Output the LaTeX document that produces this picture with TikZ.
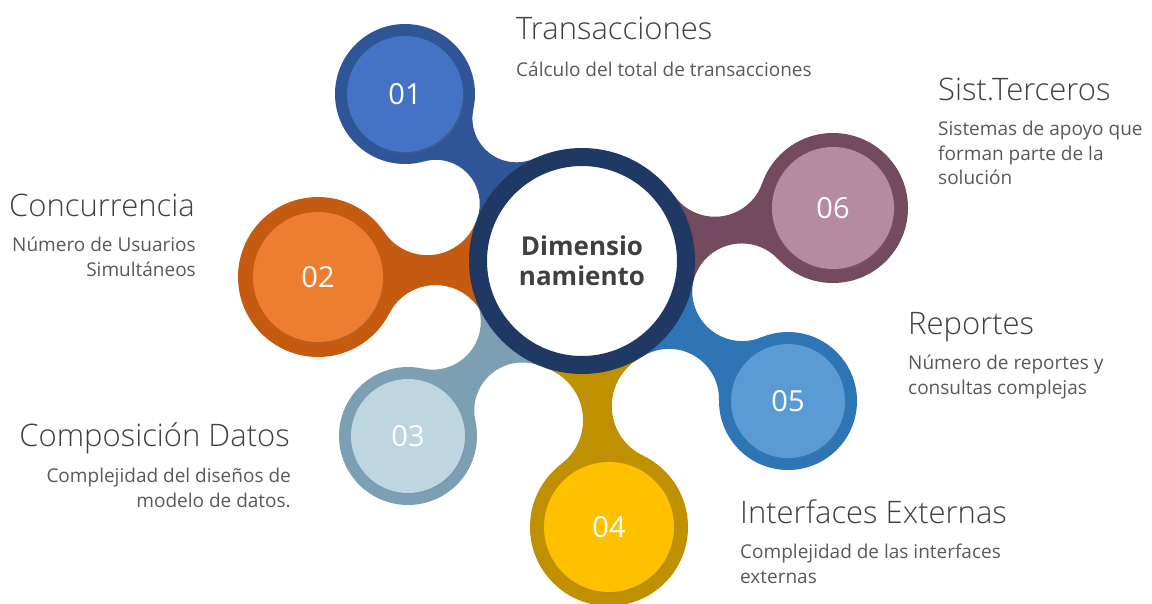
\documentclass[tikz,border=0pt]{standalone}
\usepackage{fontspec}
\setmainfont{Open Sans}
\newfontfamily\thinfont{Open Sans Light}
\usetikzlibrary{positioning}
\usetikzlibrary{intersections}
\usetikzlibrary{backgrounds}
\usetikzlibrary{shadows}

\definecolor{navy}{HTML}{203864}
\definecolor{blueD}{HTML}{2F5597}
\definecolor{blueL}{HTML}{4472C4}
\definecolor{orangeD}{HTML}{C55A11}
\definecolor{orangeL}{HTML}{ED7D31}
\definecolor{steelD}{HTML}{7C9FB3}
\definecolor{steelL}{HTML}{BDD6E0}
\definecolor{goldD}{HTML}{BF9000}
\definecolor{goldL}{HTML}{FFC000}
\definecolor{skyD}{HTML}{2E75B6}
\definecolor{skyL}{HTML}{5B9BD5}
\definecolor{plumD}{HTML}{744A5E}
\definecolor{plumL}{HTML}{B68AA1}
\definecolor{headgray}{HTML}{404040}
\definecolor{textgray}{HTML}{595959}

\tikzset{ring/.style = {circle, inner sep = 0}}
\tikzset{core/.style = {circle, inner sep = 0, text = white,
    font = \fontsize{29}{29}\selectfont,
    circular drop shadow = {shadow xshift = 1.5pt, shadow yshift = -2.5pt,
      shadow scale = 1, opacity = 0.45}}}
\tikzset{hub/.style = {circle, inner sep = 0, minimum size = 208pt, fill = white,
    draw = navy, line width = 18pt, align = center, text = headgray,
    font = \bfseries\fontsize{26}{30}\selectfont}}
\tikzset{head/.style = {inner sep = 0, text = headgray, font = \thinfont\fontsize{31}{31}\selectfont}}
\tikzset{note/.style = {inner sep = 0, text = textgray, font = \fontsize{19}{24.5}\selectfont}}

% neck between a bubble and the hub: #1 bubble, #2 its radius, #3 cut radius, #4 colour, #5 tag
\newcommand{\neck}[5]{%
  \path[name path=ra#5] (#1.center) circle ({#2+#3});
  \path[name path=rb#5] (dim.center) circle ({113+#3});
  \path[name intersections={of=ra#5 and rb#5, by={#5a,#5b}}];
  \begin{scope}
    \clip (#1.center) -- (#5a) -- (dim.center) -- (#5b) -- cycle;
    \fill[#4, even odd rule] (#1.center) circle (400)
      (#5a) circle (#3) (#5b) circle (#3);
  \end{scope}
}

\begin{document}
\begin{tikzpicture}[x=1pt, y=-1pt]
  \useasboundingbox (0,0) rectangle (1152,603);

  \node[hub] (dim) at (582,261) {Dimensio\\namiento};

  \node[ring, minimum size=140pt, fill=blueD] (s1) at (405,94) {};
  \node[ring, minimum size=160pt, fill=orangeD] (s2) at (318,277) {};
  \node[ring, minimum size=138pt, fill=steelD] (s3) at (408,436) {};
  \node[ring, minimum size=158pt, fill=goldD] (s4) at (609,527) {};
  \node[ring, minimum size=138pt, fill=skyD] (s5) at (788,401) {};
  \node[ring, minimum size=150pt, fill=plumD] (s6) at (833,208) {};

  \node[core, minimum size=116pt, fill=blueL] (c1) at (s1) {01};
  \node[core, minimum size=130pt, fill=orangeL] (c2) at (s2) {02};
  \node[core, minimum size=114pt, fill=steelL] (c3) at (s3) {03};
  \node[core, minimum size=130pt, fill=goldL] (c4) at (s4) {04};
  \node[core, minimum size=114pt, fill=skyL] (c5) at (s5) {05};
  \node[core, minimum size=122pt, fill=plumL] (c6) at (s6) {06};

  \begin{scope}[on background layer]
    \neck{s1}{70}{44}{blueD}{n1}
    \neck{s2}{80}{52}{orangeD}{n2}
    \neck{s3}{69}{48}{steelD}{n3}
    \neck{s4}{79}{55}{goldD}{n4}
    \neck{s5}{69}{50}{skyD}{n5}
    \neck{s6}{75}{50}{plumD}{n6}
  \end{scope}

  % labels
  \node[head, anchor=base west] (h1) at (516,39) {Transacciones};
  \node[note, anchor=north west, align=left] (t1) at (516,62) {Cálculo del total de transacciones};
  \node[head, anchor=base east] (h2) at (195,216) {Concurrencia};
  \node[note, anchor=north east, align=right] (t2) at (196,237) {Número de Usuarios\\Simultáneos};
  \node[head, anchor=base east] (h3) at (290,446) {Composición Datos};
  \node[note, anchor=north east, align=right] (t3) at (291,468) {Complejidad del diseños de\\modelo de datos.};
  \node[head, anchor=base west] (h4) at (740,523) {Interfaces Externas};
  \node[note, anchor=north west, align=left] (t4) at (740,544) {Complejidad de las interfaces\\externas};
  \node[head, anchor=base west] (h5) at (908,334) {Reportes};
  \node[note, anchor=north west, align=left] (t5) at (908,355) {Número de reportes y\\consultas complejas};
  \node[head, anchor=base west] (h6) at (938,100) {Sist.Terceros};
  \node[note, anchor=north west, align=left] (t6) at (938,121) {Sistemas de apoyo que\\forman parte de la\\solución};
\end{tikzpicture}
\end{document}
